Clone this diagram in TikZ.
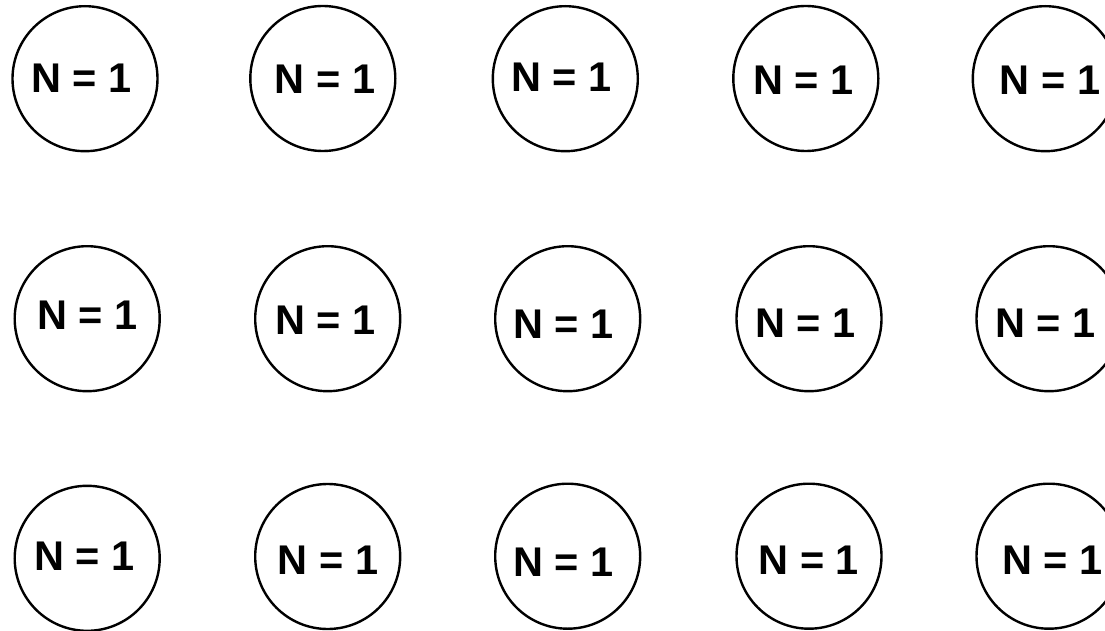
\documentclass[tikz,border=0pt]{standalone}
\usepackage{fontspec}
\setmainfont{Liberation Sans}
\begin{document}
\begin{tikzpicture}[x=1pt,y=-1pt,
  ring/.style={circle,draw=black,line width=2.4pt,minimum size=145pt,inner sep=0pt,outer sep=0pt},
  lbl/.style={inner sep=0pt,outer sep=0pt,font=\fontsize{41.5}{41.5}\selectfont\bfseries}]
\useasboundingbox (0,0) rectangle (1105,631);
\clip (0,0) rectangle (1105,631);
\fill[white] (0,0) rectangle (1105,631);
% row 1
\node[ring] (c11) at (85,78.7) {};
\node[ring] (c12) at (322.8,78.5) {};
\node[ring] (c13) at (565.3,78.7) {};
\node[ring] (c14) at (805.8,78.5) {};
\node[ring] (c15) at (1045.3,78.7) {};
\node[lbl] (t11) at (81.5,78) {N = 1};
\node[lbl] (t12) at (325,79) {N = 1};
\node[lbl] (t13) at (561.7,77.5) {N = 1};
\node[lbl] (t14) at (803.5,80) {N = 1};
\node[lbl] (t15) at (1050,80) {N = 1};
% row 2
\node[ring] (c21) at (87.2,318.7) {};
\node[ring] (c22) at (327.7,318.7) {};
\node[ring] (c23) at (567.7,318.7) {};
\node[ring] (c24) at (809,318.7) {};
\node[ring] (c25) at (1049,318.7) {};
\node[lbl] (t21) at (87.2,315.5) {N = 1};
\node[lbl] (t22) at (325.7,320.5) {N = 1};
\node[lbl] (t23) at (563.5,324.5) {N = 1};
\node[lbl] (t24) at (805.5,322.8) {N = 1};
\node[lbl] (t25) at (1045.2,322.8) {N = 1};
% row 3
\node[ring] (c31) at (87.2,558.3) {};
\node[ring] (c32) at (327.7,556.5) {};
\node[ring] (c33) at (567.7,556.2) {};
\node[ring] (c34) at (809,556.2) {};
\node[ring] (c35) at (1049,556.2) {};
\node[lbl] (t31) at (84.7,556) {N = 1};
\node[lbl] (t32) at (328,560) {N = 1};
\node[lbl] (t33) at (563.5,562.5) {N = 1};
\node[lbl] (t34) at (808.8,560) {N = 1};
\node[lbl] (t35) at (1052.3,560) {N = 1};
\end{tikzpicture}
\end{document}
